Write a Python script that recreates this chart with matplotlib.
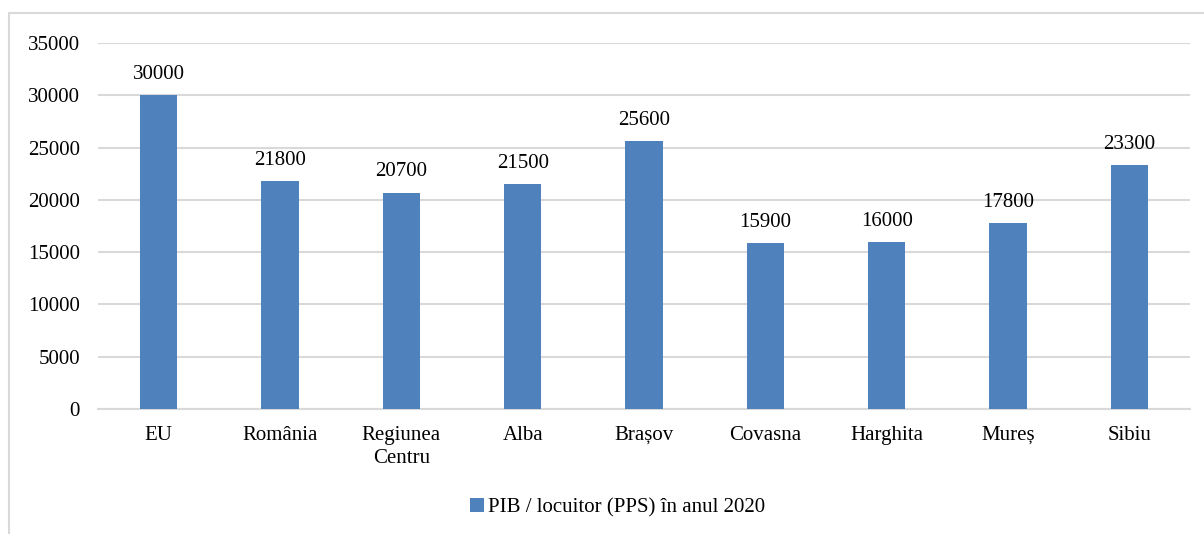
import matplotlib
matplotlib.use('Agg')
from matplotlib import pyplot as plt
from matplotlib.patches import Rectangle

categorii = ['EU', 'România', 'Regiunea\nCentru', 'Alba', 'Brașov', 'Covasna', 'Harghita', 'Mureș', 'Sibiu']
pib = [30000, 21800, 20700, 21500, 25600, 15900, 16000, 17800, 23300]
eticheta = 'PIB / locuitor (PPS) în anul 2020'

plt.rcParams['font.family'] = ['Liberation Serif', 'DejaVu Serif']

fig = plt.figure(figsize=(12.04, 5.34), dpi=100)
ax = fig.add_axes([98/1204, 1-409/534, (1190-98)/1204, (409-43)/534])

x = list(range(len(categorii)))
bare = ax.bar(x, pib, width=0.31, color='#4F81BD', label=eticheta, zorder=3)
for xi, v in zip(x, pib):
    ax.annotate(str(v), (xi, v), xytext=(0, 8), textcoords='offset points',
                ha='center', va='bottom', fontsize=15)

ax.set_xlim(-0.5, len(categorii) - 0.5)
ax.set_ylim(0, 35000)
ax.set_yticks(range(0, 35001, 5000))
ax.set_xticks(x)
ax.set_xticklabels(categorii, fontsize=15, linespacing=1.3)
ax.tick_params(axis='y', labelsize=15, length=0, pad=13)
ax.tick_params(axis='x', length=0, pad=12)
ax.grid(axis='y', color='#D9D9D9', linewidth=1.5, zorder=0)
for s in ['left', 'right', 'top']:
    ax.spines[s].set_visible(False)
ax.spines['bottom'].set_color('#D9D9D9')
ax.spines['bottom'].set_linewidth(1.5)

fig.legend(handles=[bare], labels=[eticheta], loc='center', bbox_to_anchor=(0.513, 1-508/534),
           frameon=False, fontsize=15, handlelength=0.65, handleheight=0.65, handletextpad=0.2)

fig.patches.append(Rectangle((9/1204, -0.1), 1.2, 1.1 - 13/534, transform=fig.transFigure,
                             fill=False, edgecolor='#D9D9D9', linewidth=1.5))

fig.savefig('out.png', dpi=100)
